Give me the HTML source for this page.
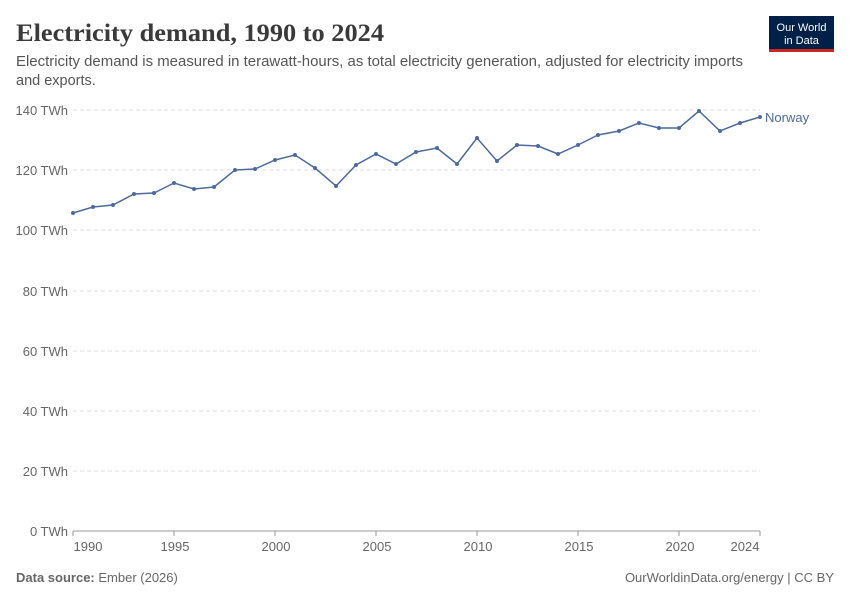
<!DOCTYPE html>
<html><head><meta charset="utf-8"><style>
body{margin:0;background:#fff;font-family:"Liberation Sans",sans-serif;}
</style></head><body>
<svg width="850" height="600" xmlns="http://www.w3.org/2000/svg" font-family="Liberation Sans, sans-serif">
<rect width="850" height="600" fill="#fff"/>
<text x="16" y="41" font-family="Liberation Serif, serif" font-size="25" font-weight="bold" fill="#3a3a3a" textLength="368" lengthAdjust="spacingAndGlyphs">Electricity demand, 1990 to 2024</text>
<text x="16" y="66" font-size="14.5" fill="#555" textLength="727" lengthAdjust="spacingAndGlyphs">Electricity demand is measured in terawatt-hours, as total electricity generation, adjusted for electricity imports</text>
<text x="16" y="85" font-size="14.5" fill="#555">and exports.</text>
<rect x="769" y="16" width="65" height="36" fill="#002147"/>
<rect x="769" y="49" width="65" height="3" fill="#ce261e"/>
<text x="801.5" y="31" font-size="11" fill="#fff" text-anchor="middle">Our World</text>
<text x="801.5" y="44" font-size="11" fill="#fff" text-anchor="middle">in Data</text>
<g stroke="#ddd" stroke-dasharray="4,3">
<line x1="73" x2="760" y1="110" y2="110"/><line x1="73" x2="760" y1="170" y2="170"/>
<line x1="73" x2="760" y1="230" y2="230"/><line x1="73" x2="760" y1="291" y2="291"/>
<line x1="73" x2="760" y1="351" y2="351"/><line x1="73" x2="760" y1="411" y2="411"/>
<line x1="73" x2="760" y1="471" y2="471"/>
</g>
<line x1="73" x2="760" y1="531" y2="531" stroke="#999"/>
<g font-size="13" fill="#666" text-anchor="end">
<text x="68" y="115">140 TWh</text><text x="68" y="175">120 TWh</text><text x="68" y="235">100 TWh</text>
<text x="68" y="296">80 TWh</text><text x="68" y="356">60 TWh</text><text x="68" y="416">40 TWh</text>
<text x="68" y="476">20 TWh</text><text x="68" y="536">0 TWh</text>
</g>
<g stroke="#999"><line x1="73" x2="73" y1="531" y2="536"/><line x1="174" x2="174" y1="531" y2="536"/><line x1="275" x2="275" y1="531" y2="536"/><line x1="376" x2="376" y1="531" y2="536"/><line x1="477" x2="477" y1="531" y2="536"/><line x1="578" x2="578" y1="531" y2="536"/><line x1="679" x2="679" y1="531" y2="536"/><line x1="760" x2="760" y1="531" y2="536"/></g>
<g font-size="13" fill="#666" text-anchor="middle">
<text x="88" y="551">1990</text><text x="175" y="551">1995</text><text x="276" y="551">2000</text><text x="377" y="551">2005</text><text x="478" y="551">2010</text><text x="579" y="551">2015</text><text x="680" y="551">2020</text><text x="745" y="551">2024</text>
</g>
<polyline fill="none" stroke="#4c6a9c" stroke-width="1.5" points="73,213 93,207 113,205 134,194 154,193 174,183 194,189 214,187 235,170 255,169 275,160 295,155 315,168 336,186 356,165 376,154 396,164 416,152 437,148 457,164 477,138 497,161 517,145 538,146 558,154 578,145 598,135 619,131 639,123 659,128 679,128 699,111 720,131 740,123 760,117"/>
<g fill="#4c6a9c">
<circle cx="73" cy="213" r="2"/><circle cx="93" cy="207" r="2"/><circle cx="113" cy="205" r="2"/><circle cx="134" cy="194" r="2"/><circle cx="154" cy="193" r="2"/><circle cx="174" cy="183" r="2"/><circle cx="194" cy="189" r="2"/><circle cx="214" cy="187" r="2"/><circle cx="235" cy="170" r="2"/><circle cx="255" cy="169" r="2"/><circle cx="275" cy="160" r="2"/><circle cx="295" cy="155" r="2"/><circle cx="315" cy="168" r="2"/><circle cx="336" cy="186" r="2"/><circle cx="356" cy="165" r="2"/><circle cx="376" cy="154" r="2"/><circle cx="396" cy="164" r="2"/><circle cx="416" cy="152" r="2"/><circle cx="437" cy="148" r="2"/><circle cx="457" cy="164" r="2"/><circle cx="477" cy="138" r="2"/><circle cx="497" cy="161" r="2"/><circle cx="517" cy="145" r="2"/><circle cx="538" cy="146" r="2"/><circle cx="558" cy="154" r="2"/><circle cx="578" cy="145" r="2"/><circle cx="598" cy="135" r="2"/><circle cx="619" cy="131" r="2"/><circle cx="639" cy="123" r="2"/><circle cx="659" cy="128" r="2"/><circle cx="679" cy="128" r="2"/><circle cx="699" cy="111" r="2"/><circle cx="720" cy="131" r="2"/><circle cx="740" cy="123" r="2"/><circle cx="760" cy="117" r="2"/>
</g>
<text x="765" y="122" font-size="13" fill="#4c6a9c">Norway</text>
<text x="16" y="582" font-size="13" fill="#666"><tspan font-weight="bold">Data source:</tspan> Ember (2026)</text>
<text x="834" y="582" font-size="13" fill="#666" text-anchor="end">OurWorldinData.org/energy | CC BY</text>
</svg>
</body></html>
